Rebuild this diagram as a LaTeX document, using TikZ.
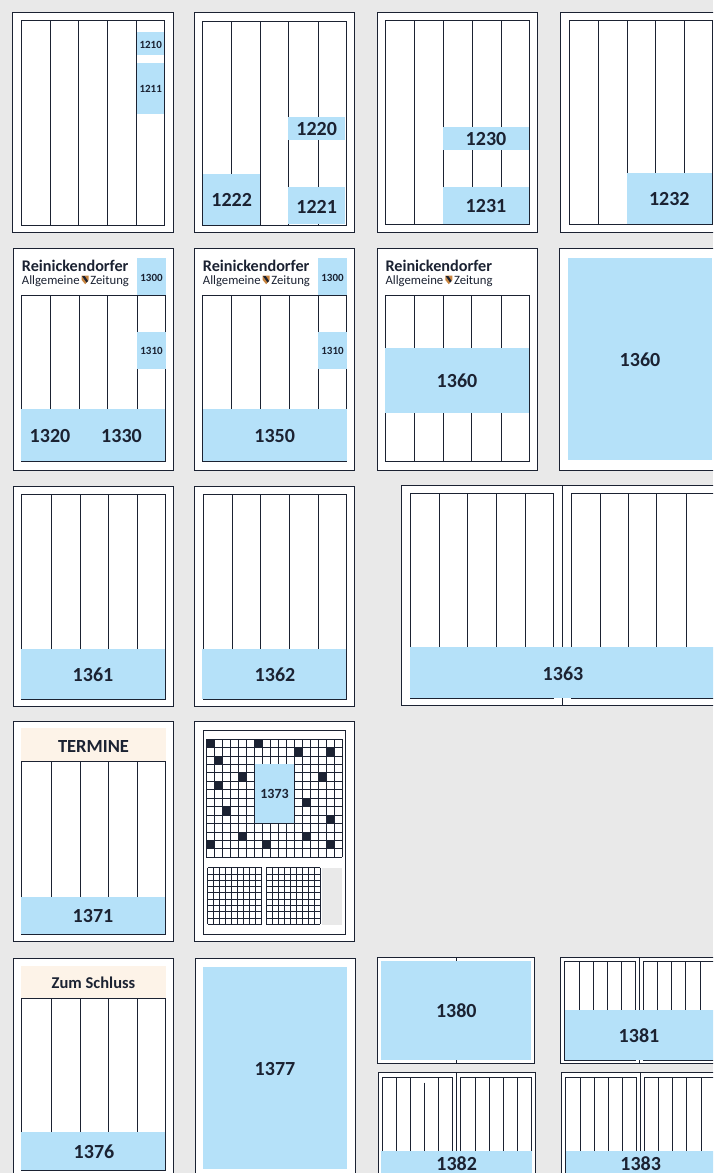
\documentclass[tikz,border=0pt]{standalone}
\usepackage{xcolor}
\usepackage{fontspec}
\setmainfont{Carlito}
\usetikzlibrary{positioning}
\definecolor{planbg}{HTML}{E9E9E9}
\definecolor{planink}{HTML}{1B2232}
\definecolor{planblue}{HTML}{B5E1F9}
\definecolor{planbeige}{HTML}{FDF3E8}
\definecolor{planshield}{HTML}{C9853F}
\tikzset{pagebox/.style={draw=planink,fill=white,line width=.75pt},
  colbox/.style={draw=planink,line width=.75pt},
  adbox/.style={fill=planblue},
  biglab/.style={font=\bfseries\fontsize{20}{20}\selectfont,text=planink,inner sep=0pt},
  midlab/.style={font=\bfseries\fontsize{14}{14}\selectfont,text=planink,inner sep=0pt},
  smalllab/.style={font=\bfseries\fontsize{11}{11}\selectfont,text=planink,inner sep=0pt},
  headlab/.style={font=\bfseries\fontsize{18.5}{19}\selectfont,text=planink,inner sep=0pt},
  mastlab/.style={font=\bfseries\fontsize{16.2}{17}\selectfont,text=planink,inner sep=0pt,anchor=base west},
  sublab/.style={font=\fontsize{12.7}{13}\selectfont,text=planink,inner sep=0pt,anchor=base west}}
% x0,y0,x1,y1 of the text frame, then the column rules
\newcommand{\colframe}[5]{\draw[colbox] (#1,#2) rectangle (#3,#4); \foreach \xr in {#5} \draw[colbox] (\xr,#2)--(\xr,#4);}
% x0,y0,x1,y1 of the ad, name, label position, style, text
\newcommand{\adfield}[8]{\fill[adbox] (#1,#2) rectangle (#3,#4); \node (#5) [#7] at (#6) {#8};}
% name, left edge of the masthead
\newcommand{\masthead}[2]{\node (#1a) [mastlab] at (#2,271.5) {Reinickendorfer}; \node (#1b) [sublab] at (#2,284) {Allgemeine};
  \node (#1c) [sublab] at (#2+68.5,284) {Zeitung};
  \fill[planshield] (#2+60,275.5)--(#2+67,275.5)--(#2+67,280)--(#2+63.5,284.2)--(#2+60,280)--cycle;
  \fill[planink] (#2+60.3,276)--(#2+63,276)--(#2+66.3,281)--(#2+64.8,282.5)--cycle;}
% x0,y0, cell w,h, cells across,down
\newcommand{\gridblock}[6]{\foreach \ii in {0,...,#5} \draw[colbox] (#1+#3*\ii,#2)--(#1+#3*\ii,#2+#4*#6);
  \foreach \jj in {0,...,#6} \draw[colbox] (#1,#2+#4*\jj)--(#1+#3*#5,#2+#4*\jj);}

\begin{document}
\begin{tikzpicture}[x=1pt,y=-1pt]
\useasboundingbox (0,0) rectangle (713,1173);
\fill[planbg] (0,0) rectangle (713,1173);
\clip (0,0) rectangle (713,1173);
% row 1
\draw[pagebox] (12.7,12) rectangle (173,232); \colframe{21.3}{20.7}{164.3}{225}{50.3,78.7,107,136.3}
\adfield{136.5}{32}{164.3}{55}{p1210}{150.7,44.5}{smalllab}{1210}
\adfield{136.5}{63}{164.3}{114}{p1211}{150.7,88.7}{smalllab}{1211}
\draw[pagebox] (194.3,12.7) rectangle (354.7,232.7); \colframe{202.7}{21}{346}{225.7}{231.7,260,288.7,318}
\adfield{288}{117}{345.3}{140}{p1220}{316.7,129}{biglab}{1220}
\adfield{288}{187}{345.3}{224}{p1221}{316.7,207}{biglab}{1221}
\adfield{203}{174}{260}{225}{p1222}{231.7,200}{biglab}{1222}
\draw[pagebox] (377.3,12) rectangle (537.7,232); \colframe{385.7}{20.3}{529.3}{224.7}{414.7,443.3,472,501.3}
\adfield{443}{127}{529}{150}{p1230}{486,139}{biglab}{1230}
\adfield{443}{187}{529}{224}{p1231}{486,206}{biglab}{1231}
\draw[pagebox] (560.3,12) rectangle (720,232); \colframe{569}{20.3}{712.3}{224.7}{598,627,655,684.3}
\adfield{627}{173}{712}{224}{p1232}{669.3,199}{biglab}{1232}
% row 2
\draw[pagebox] (13.5,248) rectangle (173.5,470); \colframe{21.7}{295.3}{165}{461}{50.7,79.3,107.7,137}
\masthead{ka}{21.7}
\adfield{137}{258}{166}{295}{p1300a}{151.5,277.5}{smalllab}{1300}
\adfield{137}{332}{166}{369}{p1310a}{151.5,351}{smalllab}{1310}
\adfield{21}{409}{165}{460.5}{p1320}{50,436}{biglab}{1320}
\node (p1330) [biglab] at (121.5,436) {1330};
\draw[pagebox] (194.5,248) rectangle (354.7,470); \colframe{202.7}{295.3}{346.7}{461}{231.7,260.3,289,318.3}
\masthead{kb}{202.7}
\adfield{318}{258}{347}{295}{p1300b}{332.5,277.5}{smalllab}{1300}
\adfield{318}{332}{347}{369}{p1310b}{332.5,351}{smalllab}{1310}
\adfield{203}{409}{347}{460.5}{p1350}{274.7,436}{biglab}{1350}
\draw[pagebox] (377.3,248) rectangle (537.3,470); \colframe{385.7}{295.3}{529.3}{461.3}{414.3,443,471.7,501}
\masthead{kc}{385.3}
\adfield{385}{348}{529}{412.7}{p1360a}{457,381}{biglab}{1360}
\draw[pagebox] (559.7,248) rectangle (720,470);
\adfield{568}{258}{712}{460}{p1360b}{640,360}{biglab}{1360}
% row 3
\draw[pagebox] (13.5,486) rectangle (173.5,706); \colframe{21.5}{494}{165}{699}{51,80,108,137}
\adfield{21}{649}{165}{699}{p1361}{93,675}{biglab}{1361}
\draw[pagebox] (194,486) rectangle (354,706); \colframe{203}{494}{346}{699}{232,260,289,318}
\adfield{202}{649}{346}{699}{p1362}{275,675}{biglab}{1362}
\draw[pagebox] (401.7,485.3) rectangle (722,705.7); \draw[colbox] (562.3,485.3)--(562.3,705.7);
\colframe{410}{493.7}{553.3}{698.3}{439.3,467.7,496,525.3} \colframe{571}{493.7}{714.3}{698.3}{600,628.3,656.7,686.3}
\adfield{410}{647}{715}{698}{p1363}{563,674}{biglab}{1363}
% row 4
\draw[pagebox] (13.5,721.5) rectangle (173.5,941.5); \colframe{21.5}{761}{165}{934}{51,80,108,137}
\fill[planbeige] (21,728) rectangle (165.5,761);
\node (termine) [headlab] at (93.5,746) {TERMINE};
\adfield{21}{897}{165}{934}{p1371}{93,916}{biglab}{1371}
\draw[pagebox] (194.7,721.7) rectangle (354,941); \draw[colbox] (203.3,730) rectangle (345.3,934.3);
\gridblock{206}{739}{8.02}{8.45}{17}{14}
\foreach \cc/\rr in {0/0,6/0,11/1,15/1,1/2,4/4,14/4,1/5,12/7,2/8,15/9,4/11,12/11,0/12,7/12,15/12}
  \fill[planink] (206+8.02*\cc,739+8.45*\rr) rectangle ++(8.02,8.45);
\adfield{254.7}{764}{294}{823.3}{p1373}{274.5,794}{midlab}{1373}
\gridblock{207.7}{867.7}{6}{6.29}{9}{9}
\gridblock{266}{867.7}{6}{6.29}{9}{9}
\fill[planbg] (322,868) rectangle (342,925);
% row 5
\draw[pagebox] (13.5,958) rectangle (173.5,1180); \colframe{21.5}{998}{165}{1170.5}{51,80,108,137}
\fill[planbeige] (21,966) rectangle (165.5,998);
\node (schluss) [midlab,font=\bfseries\fontsize{16.5}{17}\selectfont] at (93.5,983) {Zum Schluss};
\adfield{21}{1132}{165}{1170}{p1376}{94,1152}{biglab}{1376}
\draw[pagebox] (195,958) rectangle (355,1180);
\adfield{203}{967}{347}{1169}{p1377}{275,1069}{biglab}{1377}
\draw[pagebox] (377.3,957) rectangle (534.3,1063.3); \draw[colbox] (456,957)--(456,1063.3);
\adfield{380.7}{960.7}{531}{1060.3}{p1380}{456.3,1011}{biglab}{1380}
\draw[pagebox] (560.7,957) rectangle (722,1063.3); \draw[colbox] (639.3,957)--(639.3,1063.3);
\colframe{564.7}{961}{635.3}{1060}{579,593,607,621.3} \colframe{643.3}{961}{714.3}{1060}{657.7,671.7,685.7,700}
\adfield{565}{1010}{715}{1060}{p1381}{639,1036}{biglab}{1381}
\draw[pagebox] (378,1072.7) rectangle (535.3,1180); \draw[colbox] (456.7,1072.7)--(456.7,1180);
\colframe{382.3}{1077}{452.7}{1180}{396.3,410.3,438.7} \colframe{460.7}{1077}{531.3}{1180}{475.3,489.3,503.3,517.7}
\draw[colbox] (424.3,1082.7)--(424.3,1180);
\adfield{381.3}{1151}{532}{1180}{p1382}{456.7,1164}{biglab}{1382}
\draw[pagebox] (561.7,1072.7) rectangle (722,1180); \draw[colbox] (640,1072.7)--(640,1180);
\colframe{565.7}{1077}{636.3}{1180}{580,594,608,622.3} \colframe{644.3}{1077}{715}{1180}{658.7,672.7,686.7,701}
\adfield{566}{1151}{715}{1180}{p1383}{640.7,1164}{biglab}{1383}
\end{tikzpicture}
\end{document}
